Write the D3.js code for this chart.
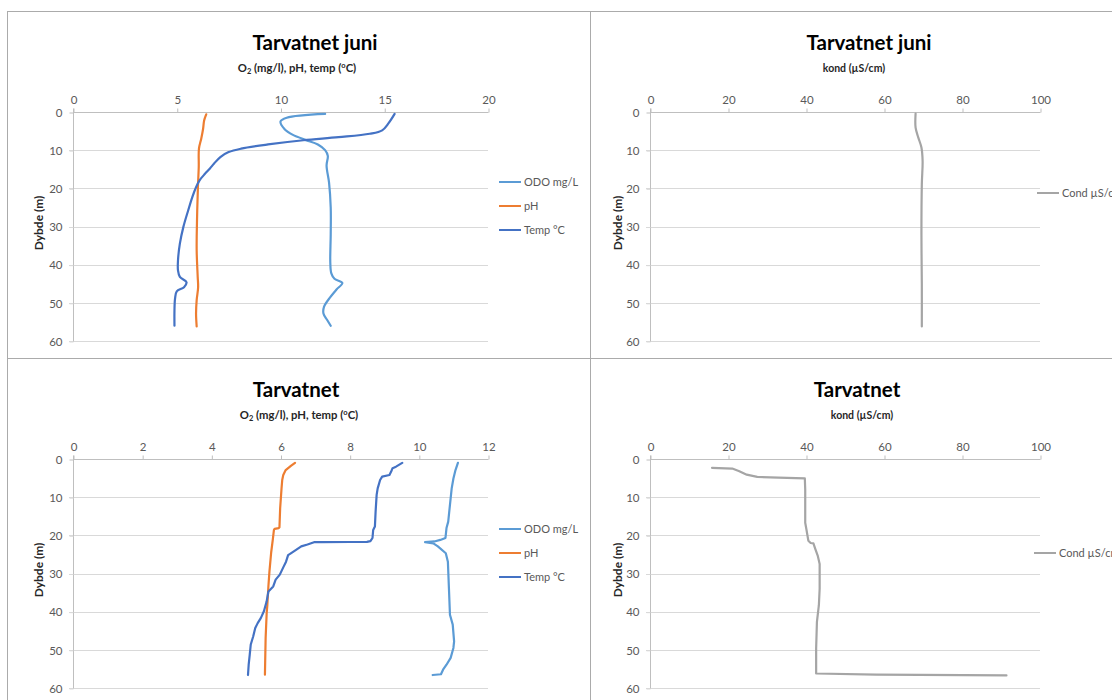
<!DOCTYPE html>
<html>
<head>
<meta charset="utf-8">
<script src="https://cdn.jsdelivr.net/npm/d3@7/dist/d3.min.js"></script>
<style>
  html, body { margin: 0; padding: 0; background: #fff; }
  svg { display: block; }
  text { font-family: Lato, "Open Sans", "DejaVu Sans", sans-serif; }
</style>
</head>
<body>
<svg id="chart" width="1112" height="700"></svg>
<script>
// Profile measurements: [depth (m), value]
const juniODO = [[0.5,12.15],[1.5,10.3],[2.5,10.0],[4.5,10.2],[6.0,10.6],[7.3,11.2],[8.5,11.8],[10,12.15],[11.5,12.28],[14,12.22],[18.5,12.34],[25,12.42],[32,12.42],[39.5,12.4],[42.3,12.45],[43.7,12.6],[44.8,12.98],[46.5,12.7],[48.5,12.4],[51,12.1],[52.8,12.07],[54.5,12.25],[56,12.42]];
const juniPH = [[0.6,6.42],[2.2,6.32],[4.4,6.27],[7,6.18],[9.6,6.07],[14.4,6.06],[19.7,6.02],[27.5,5.98],[36.2,5.96],[43.2,6.01],[45.9,6.03],[49.3,5.96],[52.8,5.93],[56.2,5.96]];
const juniTemp = [[0.5,15.5],[3,15.2],[4.8,14.9],[5.7,14.3],[6.6,12.8],[7.4,11.1],[8.5,9.4],[9.6,8.1],[10.5,7.5],[11.8,7.1],[13.5,6.8],[14.8,6.6],[16.2,6.36],[17.9,6.1],[19.7,5.93],[22.3,5.75],[25.8,5.55],[30.1,5.32],[34.5,5.15],[38.9,5.06],[41.5,5.06],[43.2,5.15],[44.6,5.47],[45.9,5.35],[47,5.0],[48.8,4.92],[52,4.89],[56,4.89]];
const juniCond = [[0.4,68.1],[4.1,68.1],[6.7,68.8],[9.3,69.6],[12.8,69.9],[18.9,69.7],[32,69.6],[45,69.7],[56.2,69.7]];

const tarvODO = [[1.0,11.13],[2.9,11.06],[5.1,11.0],[7.7,10.95],[12,10.9],[16.4,10.85],[18.1,10.8],[20.7,10.77],[21.2,10.62],[21.6,10.45],[21.8,10.18],[22.1,10.42],[22.9,10.55],[24.7,10.78],[26.9,10.84],[33.8,10.87],[40.8,10.9],[43.4,10.98],[47.8,11.02],[49.5,11.0],[52.1,10.92],[53.9,10.8],[55.2,10.7],[56.4,10.64],[56.6,10.4]];
const tarvPH = [[1.0,6.42],[1.8,6.3],[2.9,6.15],[4.2,6.08],[5.5,6.05],[7.7,6.03],[12.9,5.99],[17.9,5.97],[18.1,5.95],[18.3,5.83],[18.6,5.81],[20.9,5.78],[24.5,5.73],[29.5,5.68],[33.4,5.65],[38.2,5.62],[40.4,5.6],[46.9,5.57],[56.5,5.55]];
const tarvTemp = [[1.0,9.52],[2.0,9.34],[2.4,9.24],[3.3,9.2],[4.2,9.15],[4.6,8.94],[5.5,8.88],[7.7,8.81],[9.4,8.78],[13.8,8.75],[17.7,8.73],[18.6,8.68],[20.7,8.66],[21.5,8.6],[21.7,8.5],[21.75,8.0],[21.8,7.2],[21.8,6.97],[22.4,6.78],[22.9,6.6],[23.8,6.45],[24.6,6.32],[25.2,6.22],[26.9,6.16],[28.4,6.08],[30.3,5.98],[31.6,5.86],[33.4,5.79],[34.7,5.65],[37.3,5.6],[39.9,5.52],[41.7,5.43],[43,5.34],[44.3,5.27],[46.5,5.21],[48.6,5.14],[51.3,5.11],[53.9,5.08],[56.6,5.06]];
const tarvCond = [[2.3,15.9],[2.5,21.1],[3.2,22.9],[4.1,24.8],[4.7,27.5],[4.9,32.9],[5.1,39.7],[8,39.8],[16.7,39.8],[18.4,40.1],[21.4,40.6],[22,41.2],[22.1,41.9],[23.6,42.4],[25.3,43],[27.5,43.5],[34,43.5],[38.3,43.3],[42.7,42.8],[49.6,42.6],[56.2,42.6],[56.5,58],[56.7,91.4]];

// Axis ticks
const depthTicks = [0, 10, 20, 30, 40, 50, 60];
const juniChemTicks = [0, 5, 10, 15, 20];
const tarvChemTicks = [0, 2, 4, 6, 8, 10, 12];
const condTicks = [0, 20, 40, 60, 80, 100];

// Series names and titles
const chemNames = ["ODO mg/L", "pH", "Temp °C"];
const condName = "Cond µS/cm";
const titles = ["Tarvatnet juni", "Tarvatnet juni", "Tarvatnet", "Tarvatnet"];
const depthLabel = "Dybde (m)";

const colors = { odo: "#5B9BD5", ph: "#ED7D31", temp: "#4472C4", cond: "#A5A5A5" };

const svg = d3.select("#chart");

// Sheet cell borders
const borderColor = "#ababab";
svg.append("line").attr("x1", 7).attr("x2", 1112).attr("y1", 11.5).attr("y2", 11.5).attr("stroke", borderColor);
svg.append("line").attr("x1", 7.5).attr("x2", 7.5).attr("y1", 11).attr("y2", 700).attr("stroke", borderColor);
svg.append("line").attr("x1", 590.5).attr("x2", 590.5).attr("y1", 11).attr("y2", 700).attr("stroke", borderColor);
svg.append("line").attr("x1", 7).attr("x2", 1112).attr("y1", 358.5).attr("y2", 358.5).attr("stroke", borderColor);

const panels = [
  { left: 73, top: 112, w: 415, h: 229, xMax: 20, xTicks: juniChemTicks, title: titles[0], titleX: 315, sub: "chem", subX: 297, yTitleX: 39, smooth: true,
    series: [{ name: chemNames[0], data: juniODO, color: colors.odo }, { name: chemNames[1], data: juniPH, color: colors.ph }, { name: chemNames[2], data: juniTemp, color: colors.temp }],
    legendX: 499, legendY: [182, 206, 230] },
  { left: 650, top: 112, w: 390, h: 229, xMax: 100, xTicks: condTicks, title: titles[1], titleX: 869, sub: "cond", subX: 854, yTitleX: 618, smooth: true,
    series: [{ name: condName, data: juniCond, color: colors.cond }],
    legendX: 1037, legendY: [193] },
  { left: 73, top: 459, w: 415, h: 229, xMax: 12, xTicks: tarvChemTicks, title: titles[2], titleX: 296, sub: "chem", subX: 299, yTitleX: 39, smooth: false,
    series: [{ name: chemNames[0], data: tarvODO, color: colors.odo }, { name: chemNames[1], data: tarvPH, color: colors.ph }, { name: chemNames[2], data: tarvTemp, color: colors.temp }],
    legendX: 499, legendY: [529, 553, 577] },
  { left: 650, top: 459, w: 390, h: 229, xMax: 100, xTicks: condTicks, title: titles[3], titleX: 857, sub: "cond", subX: 862, yTitleX: 618, smooth: false,
    series: [{ name: condName, data: tarvCond, color: colors.cond }],
    legendX: 1034, legendY: [553] }
];

panels.forEach(p => {
  const g = svg.append("g");
  const x = d3.scaleLinear().domain([0, p.xMax]).range([p.left, p.left + p.w]);
  const y = d3.scaleLinear().domain([0, 60]).range([p.top, p.top + p.h]);

  // Horizontal gridlines
  g.append("g").selectAll("line").data(depthTicks.slice(1)).join("line")
    .attr("x1", p.left - 4).attr("x2", p.left + p.w)
    .attr("y1", d => Math.round(y(d)) + 0.5).attr("y2", d => Math.round(y(d)) + 0.5)
    .attr("stroke", "#d9d9d9").attr("stroke-width", 1);

  // Top value axis
  const xAxis = d3.axisTop(x).tickValues(p.xTicks).tickSize(4).tickPadding(5).tickFormat(d3.format("d"));
  const xa = g.append("g").attr("transform", `translate(0.5,${Math.round(p.top) + 0.5})`).call(xAxis);
  xa.select(".domain").attr("stroke", "#bfbfbf").attr("d", `M${p.left},0H${p.left + p.w}`);
  xa.selectAll(".tick line").attr("stroke", "#bfbfbf");
  xa.selectAll(".tick text").attr("fill", "#595959").attr("font-size", 11.5);

  // Left depth axis
  const yAxis = d3.axisLeft(y).tickValues(depthTicks).tickSize(4).tickPadding(7).tickFormat(d3.format("d"));
  const ya = g.append("g").attr("transform", `translate(${Math.round(p.left) + 0.5},0.5)`).call(yAxis);
  ya.select(".domain").attr("stroke", "#bfbfbf").attr("d", `M0,${p.top - 4}V${p.top + p.h}`);
  ya.selectAll(".tick line").attr("stroke", d => d === 0 ? "#bfbfbf" : "#d9d9d9");
  ya.selectAll(".tick text").attr("fill", "#595959").attr("font-size", 11.5);

  // Profile lines
  const line = d3.line()
    .x(d => x(d[1])).y(d => y(d[0]))
    .curve(p.smooth ? d3.curveCatmullRom.alpha(0.5) : d3.curveLinear);
  p.series.forEach(s => {
    g.append("path").datum(s.data).attr("d", line)
      .attr("fill", "none").attr("stroke", s.color).attr("stroke-width", 2.2)
      .attr("stroke-linejoin", "round").attr("stroke-linecap", "round");
  });

  // Chart title
  g.append("text").attr("x", p.titleX).attr("y", p.top - 62).attr("text-anchor", "middle")
    .attr("font-size", 20.5).attr("font-weight", "bold").attr("fill", "#000").text(p.title);

  // Value axis title
  const st = g.append("text").attr("x", p.subX).attr("y", p.top - 40).attr("text-anchor", "middle")
    .attr("font-size", p.sub === "chem" ? 11.3 : 10.5).attr("font-weight", "bold").attr("fill", "#262626");
  if (p.sub === "chem") {
    st.append("tspan").text("O");
    st.append("tspan").attr("font-size", 7.5).attr("dy", 2).text("2");
    st.append("tspan").attr("dy", -2).text(" (mg/l), pH, temp (");
    st.append("tspan").attr("font-size", 7.5).attr("dy", -4).text("o");
    st.append("tspan").attr("dy", 4).text("C)");
  } else {
    st.text("kond (µS/cm)");
  }

  // Depth axis title
  g.append("text").attr("transform", `translate(${p.yTitleX + 4},${p.top + 111}) rotate(-90)`)
    .attr("text-anchor", "middle").attr("font-size", 12).attr("font-weight", "bold").attr("fill", "#262626")
    .text(depthLabel);

  // Legend
  p.series.forEach((s, i) => {
    const ly = p.legendY[i];
    g.append("line").attr("x1", p.legendX).attr("x2", p.legendX + 22).attr("y1", ly).attr("y2", ly)
      .attr("stroke", s.color).attr("stroke-width", 2);
    g.append("text").attr("x", p.legendX + 25).attr("y", ly).attr("dy", "0.35em")
      .attr("font-size", 11).attr("fill", "#595959").text(s.name);
  });
});
</script>
</body>
</html>
